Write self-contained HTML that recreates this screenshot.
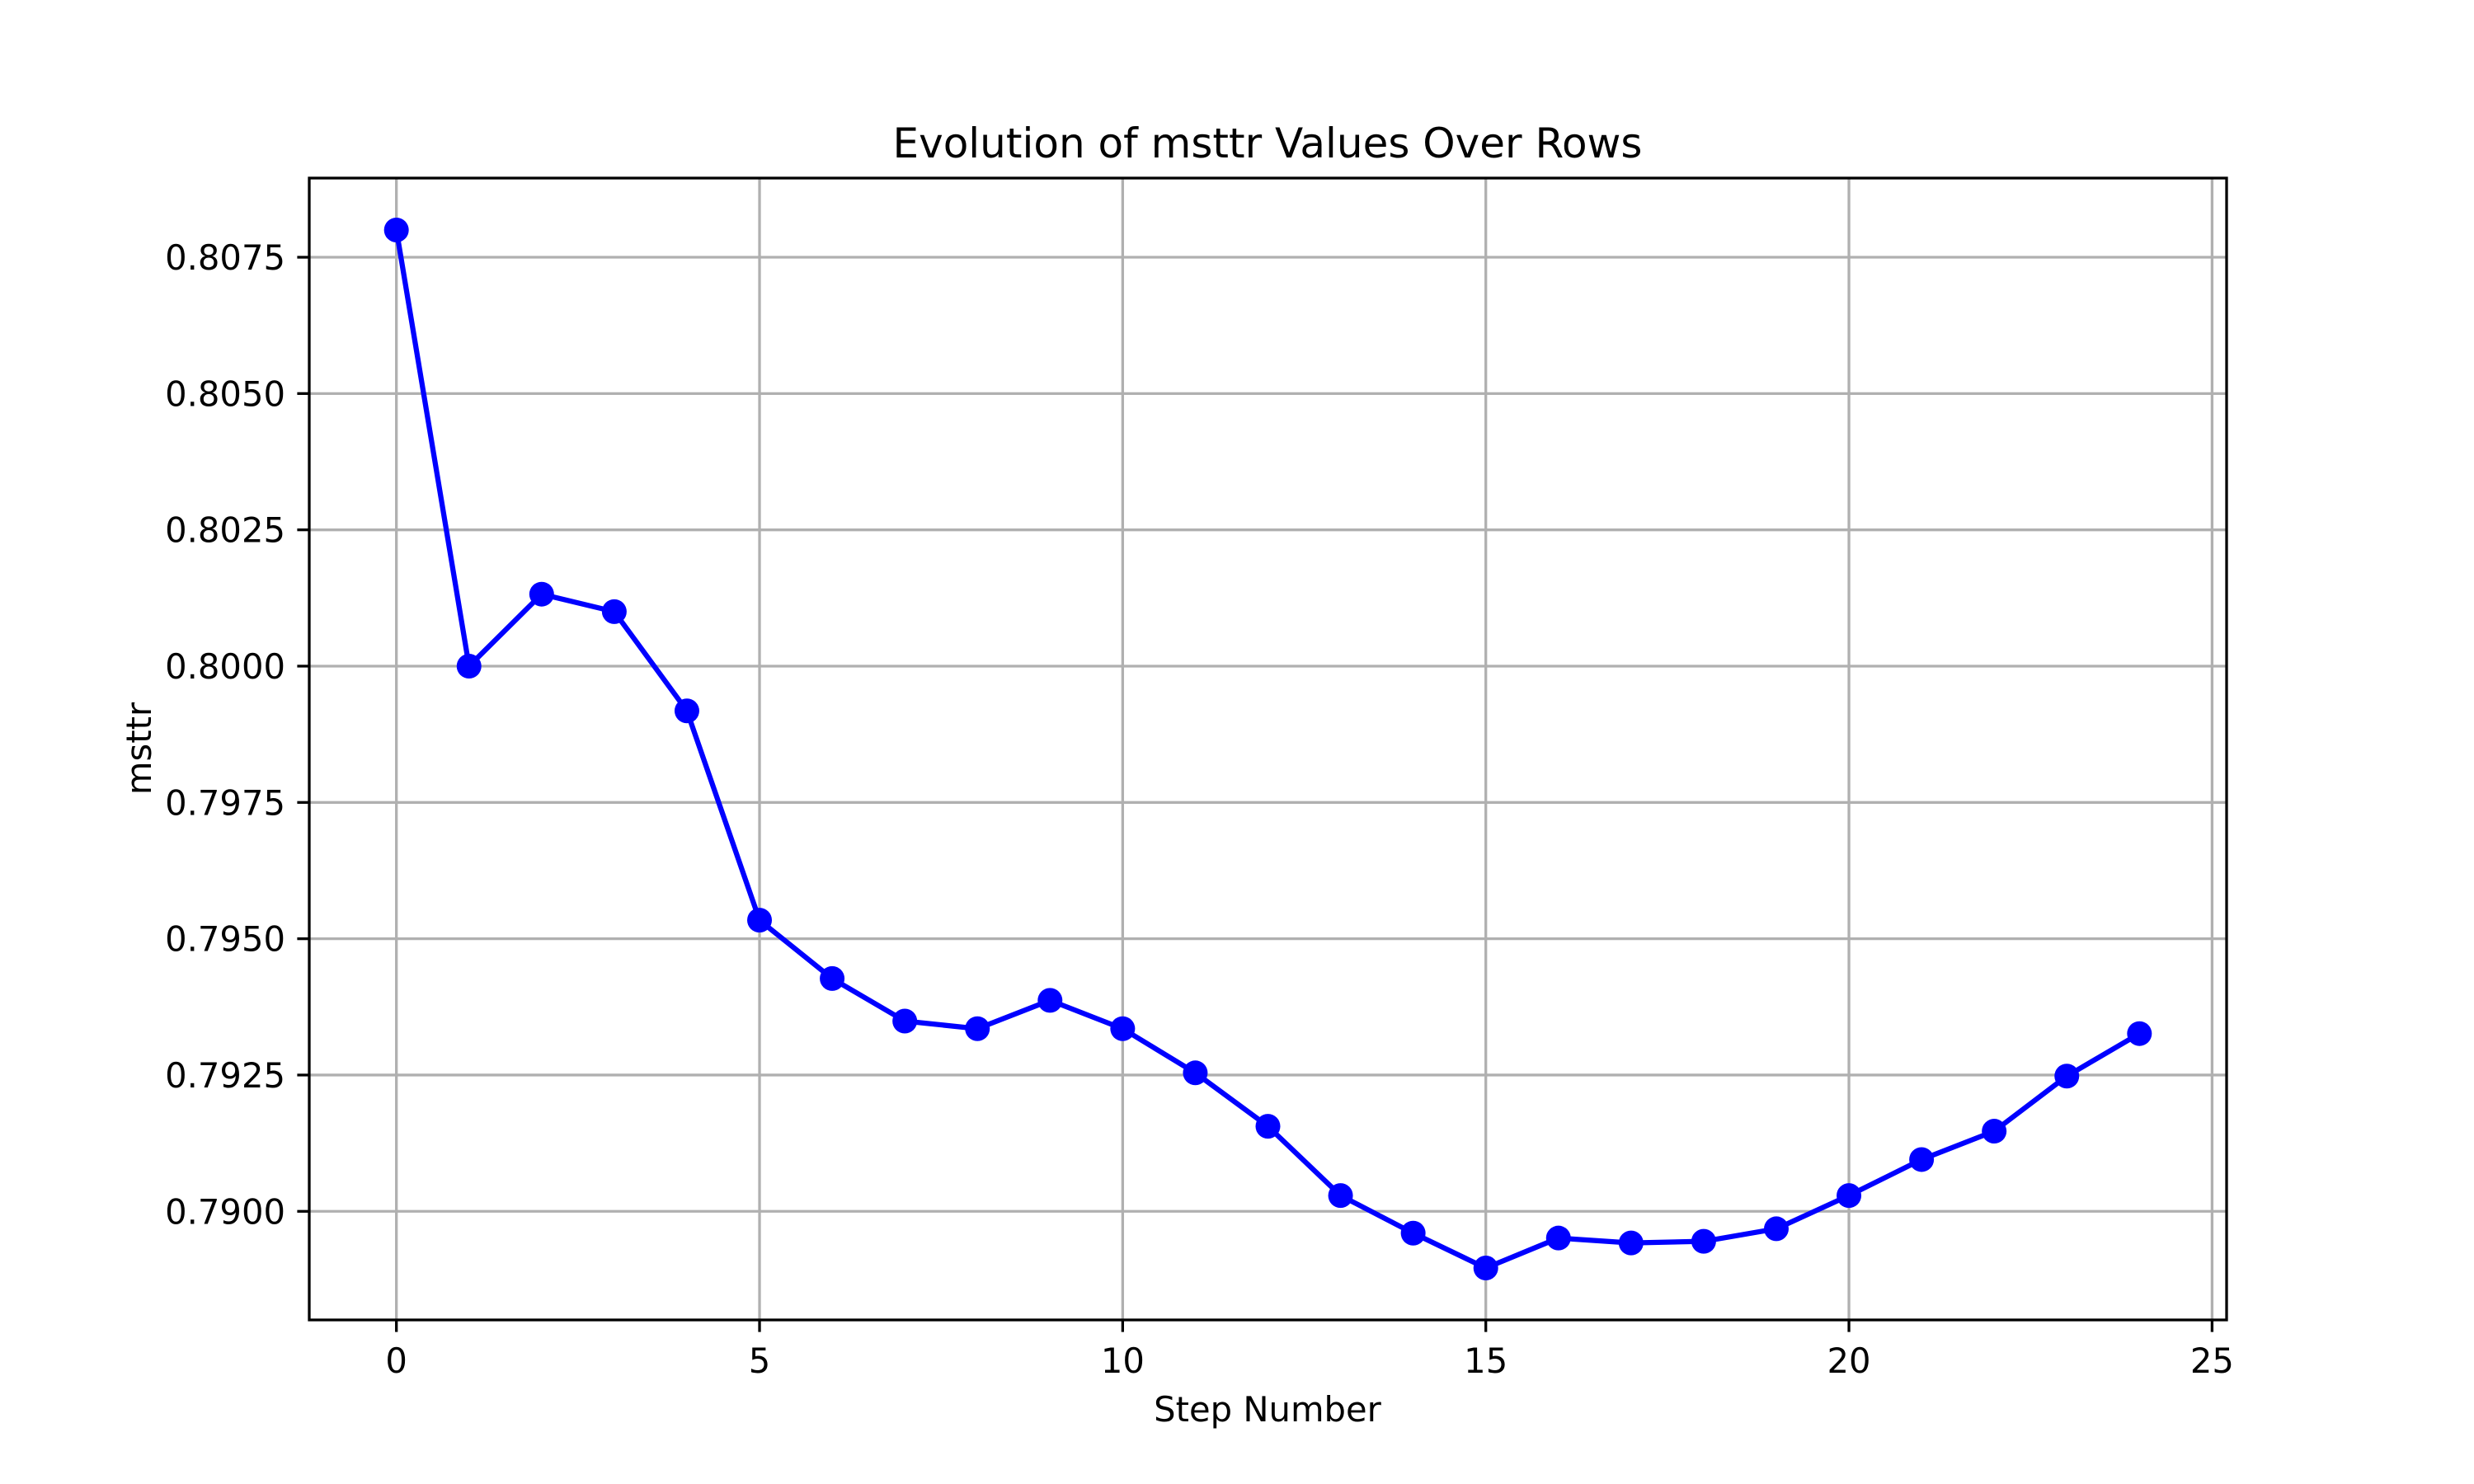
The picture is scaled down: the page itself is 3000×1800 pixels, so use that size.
<!DOCTYPE html>
<html><head><meta charset="utf-8"><style>
html,body{margin:0;padding:0;background:#fff}
svg{display:block;font-family:"DejaVu Sans","Liberation Sans",sans-serif}
</style></head><body>
<svg id="chart" width="3000" height="1800" viewBox="0 0 3000 1800" xmlns="http://www.w3.org/2000/svg">
<rect width="3000" height="1800" fill="#fff"/>
<g id="grid"></g>
<g id="ticks"></g>
<g id="series"></g>
<rect x="375" y="216" width="2325" height="1385" fill="none" stroke="#000" stroke-width="3.3"/>
<text x="1537" y="191" font-size="50" text-anchor="middle">Evolution of msttr Values Over Rows</text>
<text x="1537" y="1724" font-size="41.7" text-anchor="middle">Step Number</text>
<text transform="translate(183,908) rotate(-90)" font-size="41.7" text-anchor="middle">msttr</text>
</svg>
<script>
const steps = [0,1,2,3,4,5,6,7,8,9,10,11,12,13,14,15,16,17,18,19,20,21,22,23,24];
const msttrValues = [0.8080,0.8000,0.80132,0.80100,0.79918,0.79534,0.79427,0.79349,0.79335,0.79387,0.79335,0.79254,0.79156,0.79029,0.78960,0.78896,0.78951,0.78942,0.78945,0.78968,0.79029,0.79095,0.79147,0.79248,0.79326];
const xTicks = [0,5,10,15,20,25];
const yTicks = [0.7900,0.7925,0.7950,0.7975,0.8000,0.8025,0.8050,0.8075];

const NS="http://www.w3.org/2000/svg";
const L=375,R=2700,T=216,B=1601;
const xmin=Math.min(...steps),xmax=Math.max(...steps);
const xm=(xmax-xmin)*0.05, x0=xmin-xm, x1=xmax+xm;
const ymin=Math.min(...msttrValues),ymax=Math.max(...msttrValues);
const ym=(ymax-ymin)*0.05, y0=ymin-ym, y1=ymax+ym;
const sx=v=>L+(v-x0)/(x1-x0)*(R-L);
const sy=v=>B-(v-y0)/(y1-y0)*(B-T);
function mk(tag,attrs,parent){const e=document.createElementNS(NS,tag);for(const k in attrs)e.setAttribute(k,attrs[k]);parent.appendChild(e);return e;}
const grid=document.getElementById('grid'),ticks=document.getElementById('ticks'),series=document.getElementById('series');
xTicks.forEach(t=>{
  const x=sx(t);
  const g=mk('line',{x1:x,x2:x,y1:T,y2:B,stroke:'#b0b0b0','stroke-width':3.3},grid);
  
  
  const tk=mk('line',{x1:x,x2:x,y1:B,y2:B+14.6,stroke:'#000','stroke-width':3.3},ticks);
  
  
  const tx=mk('text',{x:x,y:B+64,'font-size':41.7,'text-anchor':'middle'},ticks);
  tx.textContent=String(t);
  
  
});
yTicks.forEach(t=>{
  const y=sy(t);
  const g=mk('line',{x1:L,x2:R,y1:y,y2:y,stroke:'#b0b0b0','stroke-width':3.3},grid);
  
  
  const tk=mk('line',{x1:L-14.6,x2:L,y1:y,y2:y,stroke:'#000','stroke-width':3.3},ticks);
  
  
  const tx=mk('text',{x:L-29,y:y+15,'font-size':41.7,'text-anchor':'end'},ticks);
  tx.textContent=t.toFixed(4);
  
  
});
const pts=steps.map((s,i)=>sx(s)+','+sy(msttrValues[i])).join(' ');
const pl=mk('polyline',{points:pts,fill:'none',stroke:'#0000ff','stroke-width':6.25,'stroke-linejoin':'round'},series);


steps.forEach((s,i)=>{
  const c=mk('circle',{cx:sx(s),cy:sy(msttrValues[i]),r:15,fill:'#0000ff'},series);
  
  
});
</script>
</body></html>
